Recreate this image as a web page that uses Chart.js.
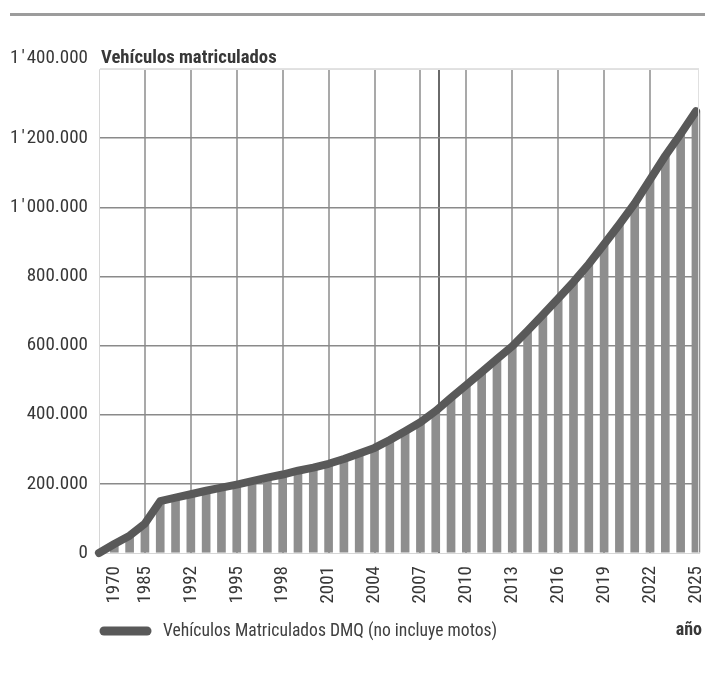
<!DOCTYPE html>
<html>
<head>
<meta charset="utf-8">
<script src="https://cdn.jsdelivr.net/npm/chart.js@4.4.1/dist/chart.umd.min.js"></script>
<style>
  html, body { margin: 0; padding: 0; background: #fff; }
  #wrap { position: relative; width: 705px; height: 675px; }
</style>
</head>
<body>
<div id="wrap"><canvas id="chart" width="705" height="675"></canvas></div>
<script>
// Vehículos matriculados en el DMQ (sin motos), serie histórica y proyección
const years = ['', '1970', '1978', '1985', '1988', '1990',
  '1992', '1993', '1994', '1995', '1996', '1997', '1998', '1999', '2000',
  '2001', '2002', '2003', '2004', '2005', '2006', '2007', '2008', '2009',
  '2010', '2011', '2012', '2013', '2014', '2015', '2016', '2017', '2018',
  '2019', '2020', '2021', '2022', '2023', '2024', '2025'];

const vehicles = [0, 26000, 50000, 85000, 150000, 160000,
  170000, 180000, 189000, 198000, 208000, 218000, 227000, 238000, 247000,
  258000, 272000, 288000, 304000, 327000, 352000, 378000, 411000, 449000,
  486000, 523000, 561000, 598000, 643000, 689000, 736000, 784000, 836000,
  893000, 951000, 1011000, 1080000, 1149000, 1212000, 1278000];

const labeledYears = ['1970', '1985', '1992', '1995', '1998', '2001', '2004',
  '2007', '2010', '2013', '2016', '2019', '2022', '2025'];

const yTicks = [0, 200000, 400000, 600000, 800000, 1000000, 1200000, 1400000];

// vertical reference line, a little past 2008
const referenceLinePos = years.indexOf('2008') + 0.22;

const seriesLabel = 'Vehículos Matriculados DMQ (no incluye motos)';
const axisTitleY = 'Vehículos matriculados';
const axisTitleX = 'año';

const FONT = "'Roboto Condensed', 'Liberation Sans', sans-serif";
const TEXT = '#383838';
const LINE_COLOR = '#595959';
const BAR_COLOR = '#8e8e8e';

function fmt(v) {
  // 1'200.000 style: apostrophe for millions, dot for thousands
  if (v === 0) return '0';
  const m = Math.floor(v / 1000000);
  const rest = v % 1000000;
  const k = Math.floor(rest / 1000);
  const u = rest % 1000;
  const pad = n => String(n).padStart(3, '0');
  if (m > 0) return m + "\u200A'\u200A" + pad(k) + '.' + pad(u);
  return k + '.' + pad(u);
}

const points = vehicles.map((v, i) => ({ x: i, y: v }));
const tickPositions = labeledYears.map(y => years.indexOf(y)).concat([referenceLinePos]);

const decorations = {
  id: 'decorations',
  afterDraw(chart) {
    const { ctx, chartArea: a, scales: { y } } = chart;
    ctx.save();
    // rule above the figure
    ctx.strokeStyle = '#9c9c9c';
    ctx.lineWidth = 3;
    ctx.beginPath();
    ctx.moveTo(10, 14.5);
    ctx.lineTo(705, 14.5);
    ctx.stroke();

    // light frame on the top and right of the plot
    ctx.strokeStyle = '#e0e0e0';
    ctx.lineWidth = 1;
    ctx.beginPath();
    ctx.moveTo(a.left, a.top + 0.5);
    ctx.lineTo(a.right, a.top + 0.5);
    ctx.moveTo(a.right - 0.5, a.top);
    ctx.lineTo(a.right - 0.5, a.bottom);
    ctx.stroke();

    // top value label and axis title, raised above the top gridline
    const topY = y.getPixelForValue(yTicks[yTicks.length - 1]) - 11;
    ctx.fillStyle = TEXT;
    ctx.textBaseline = 'middle';
    ctx.font = '19px ' + FONT;
    ctx.textAlign = 'right';
    ctx.fillText(fmt(yTicks[yTicks.length - 1]), a.left - 11, topY);
    ctx.textAlign = 'left';
    ctx.font = 'bold 18.7px ' + FONT;
    ctx.fillText(axisTitleY, a.left + 2, topY);

    // legend
    const ds = chart.data.datasets[0];
    const ly = 631;
    ctx.strokeStyle = ds.borderColor;
    ctx.lineWidth = 9;
    ctx.lineCap = 'round';
    ctx.beginPath();
    ctx.moveTo(a.left + 5, ly);
    ctx.lineTo(a.left + 48, ly);
    ctx.stroke();
    ctx.fillStyle = '#404040';
    ctx.font = '17.6px ' + FONT;
    ctx.textAlign = 'left';
    ctx.fillText(ds.label, a.left + 64, ly + 1);

    ctx.font = 'bold 18px ' + FONT;
    ctx.textAlign = 'right';
    ctx.fillStyle = TEXT;
    ctx.fillText(axisTitleX, 702, ly - 1);
    ctx.restore();
  }
};

new Chart(document.getElementById('chart'), {
  type: 'bar',
  data: {
    datasets: [
      {
        type: 'line',
        label: seriesLabel,
        data: points,
        borderColor: LINE_COLOR,
        borderWidth: 8,
        borderCapStyle: 'round',
        borderJoinStyle: 'round',
        pointRadius: 0,
        tension: 0,
        clip: 6,
        order: 0
      },
      {
        type: 'bar',
        label: 'barras',
        data: points,
        backgroundColor: BAR_COLOR,
        barThickness: 8,
        clip: 6,
        order: 1
      }
    ]
  },
  plugins: [decorations],
  options: {
    responsive: false,
    animation: false,
    events: [],
    layout: { padding: { top: 69, right: 6, left: 0, bottom: 0 } },
    plugins: { legend: { display: false }, tooltip: { enabled: false } },
    scales: {
      x: {
        type: 'linear',
        min: 0,
        max: 39.2,
        offset: false,
        afterBuildTicks(scale) {
          scale.ticks = tickPositions.map(v => ({ value: v }));
        },
        afterFit(scale) {
          scale.height = 122;
          scale.paddingLeft = 0;
          scale.paddingRight = 0;
        },
        ticks: {
          autoSkip: false,
          minRotation: 90,
          maxRotation: 90,
          padding: 13,
          color: TEXT,
          font: { family: FONT, size: 19 },
          callback: (v) => (Number.isInteger(v) ? years[v] : '')
        },
        grid: {
          offset: false,
          drawTicks: false,
          lineWidth: 2,
          color: (c) => {
            if (!c.tick) return 'rgba(0,0,0,0)';
            const v = c.tick.value;
            if (v === referenceLinePos) return '#6a6a6a';
            if (v === years.indexOf('1970') || v === years.length - 1) return 'rgba(0,0,0,0)';
            return '#a9a9a9';
          }
        },
        border: { display: true, color: '#d6d6d6', width: 1 }
      },
      y: {
        min: 0,
        max: 1400000,
        afterBuildTicks(scale) {
          scale.ticks = yTicks.map(v => ({ value: v }));
        },
        afterFit(scale) {
          scale.width = 99;
          scale.paddingTop = 0;
          scale.paddingBottom = 0;
        },
        ticks: {
          padding: 11,
          color: TEXT,
          font: { family: FONT, size: 19 },
          callback: (v) => (v === yTicks[yTicks.length - 1] ? '' : fmt(v))
        },
        grid: {
          drawTicks: false,
          lineWidth: 1.5,
          color: (c) => {
            const v = c.tick ? c.tick.value : null;
            if (v === 0) return 'rgba(0,0,0,0)';
            if (v === yTicks[yTicks.length - 1]) return '#e2e2e2';
            return '#8a8a8a';
          }
        },
        border: { display: true, color: '#d6d6d6', width: 1 }
      }
    }
  }
});
</script>
</body>
</html>
